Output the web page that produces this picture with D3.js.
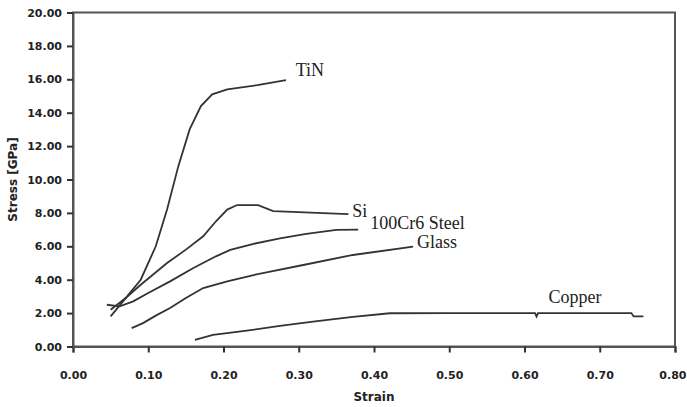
<!DOCTYPE html>
<html>
<head>
<meta charset="utf-8">
<script src="https://cdn.jsdelivr.net/npm/d3@7"></script>
<style>
	body { margin: 0; background: #fff; }
	.tick text { font-family: 'DejaVu Sans', sans-serif; font-weight: bold; font-size: 11px; fill: #222; }
	.label { font-family: 'Liberation Serif', 'Times New Roman', serif; font-size: 18px; fill: #222; }
	.title { font-family: 'DejaVu Sans', sans-serif; font-weight: bold; font-size: 12px; fill: #222; }
</style>
</head>
<body>
<svg id="chart"></svg>
<script>
'use strict';

// strain / stress [GPa] pairs
var tin = [
	[0.050, 1.8], [0.070, 2.9], [0.090, 4.0], [0.110, 6.0], [0.125, 8.2],
	[0.140, 10.8], [0.155, 13.0], [0.170, 14.4], [0.185, 15.1], [0.205, 15.4],
	[0.245, 15.65], [0.283, 15.95]
];
var si = [
	[0.050, 2.2], [0.070, 2.9], [0.090, 3.7], [0.125, 5.0], [0.150, 5.8],
	[0.173, 6.6], [0.190, 7.5], [0.205, 8.2], [0.218, 8.47], [0.246, 8.47],
	[0.266, 8.11], [0.300, 8.05], [0.324, 8.0], [0.366, 7.93]
];
var steel = [
	[0.045, 2.5], [0.062, 2.4], [0.080, 2.7], [0.100, 3.2], [0.129, 3.9],
	[0.160, 4.7], [0.190, 5.4], [0.209, 5.78], [0.240, 6.15], [0.275, 6.48],
	[0.310, 6.75], [0.350, 6.98], [0.379, 7.0]
];
var glass = [
	[0.078, 1.1], [0.093, 1.4], [0.110, 1.85], [0.129, 2.3], [0.150, 2.9],
	[0.173, 3.5], [0.205, 3.9], [0.240, 4.28], [0.306, 4.88], [0.372, 5.48],
	[0.452, 5.98]
];
var copper = [
	[0.162, 0.4], [0.186, 0.7], [0.231, 0.95], [0.275, 1.23], [0.319, 1.49],
	[0.372, 1.78], [0.421, 1.99], [0.500, 2.0], [0.614, 2.0], [0.616, 1.8],
	[0.618, 2.0], [0.742, 2.0], [0.745, 1.8], [0.758, 1.8]
];

var series = [
	{ name: 'TiN', values: tin },
	{ name: 'Si', values: si },
	{ name: '100Cr6 Steel', values: steel },
	{ name: 'Glass', values: glass },
	{ name: 'Copper', values: copper }
];

// where each curve label sits, in data units
var labelPos = [
	{ name: 'TiN', x: 0.296, y: 16.2 },
	{ name: 'Si', x: 0.371, y: 7.75 },
	{ name: '100Cr6 Steel', x: 0.395, y: 7.05 },
	{ name: 'Glass', x: 0.457, y: 5.9 },
	{ name: 'Copper', x: 0.632, y: 2.6 }
];

var xTicks = [0, 0.1, 0.2, 0.3, 0.4, 0.5, 0.6, 0.7, 0.8];
var yTicks = [0, 2, 4, 6, 8, 10, 12, 14, 16, 18, 20];

var w = 687,
	h = 407,
	margin = { top: 12.5, right: 12, bottom: 60.5, left: 73 },
	x, y, line, svg, plot;

svg = d3.select('#chart')
	.attr('width', w)
	.attr('height', h);

x = d3.scaleLinear()
	.domain([0, 0.8])
	.range([margin.left, w - margin.right]);

y = d3.scaleLinear()
	.domain([0, 20])
	.range([h - margin.bottom, margin.top]);

// frame around the plot area
svg.append('rect')
	.attr('x', x(0))
	.attr('y', y(20))
	.attr('width', x(0.8) - x(0))
	.attr('height', y(0) - y(20))
	.attr('fill', 'none')
	.attr('stroke', '#555')
	.attr('stroke-width', 2);

svg.append('g')
	.attr('transform', 'translate(0,' + y(0) + ')')
	.call(d3.axisBottom(x).tickValues(xTicks).tickFormat(d3.format('.2f')).tickSize(6).tickPadding(19))
	.call(function (g) {
		g.select('.domain').attr('stroke', '#555').attr('stroke-width', 2);
		g.selectAll('.tick line').attr('stroke', '#333').attr('stroke-width', 2);
		// last label would run past the right edge, pull it in
		g.selectAll('.tick:last-of-type text')
			.attr('text-anchor', 'end')
			.attr('x', 11);
	});

svg.append('g')
	.attr('transform', 'translate(' + x(0) + ',0)')
	.call(d3.axisLeft(y).tickValues(yTicks).tickFormat(d3.format('.2f')).tickSize(6).tickPadding(5))
	.call(function (g) {
		g.select('.domain').attr('stroke', '#555').attr('stroke-width', 2);
		g.selectAll('.tick line').attr('stroke', '#333').attr('stroke-width', 2);
	});

svg.append('text')
	.attr('class', 'title')
	.attr('x', (x(0) + x(0.8)) / 2)
	.attr('y', 401)
	.attr('text-anchor', 'middle')
	.text('Strain');

svg.append('text')
	.attr('class', 'title')
	.attr('transform', 'translate(17,' + y(10) + ') rotate(-90)')
	.attr('text-anchor', 'middle')
	.text('Stress [GPa]');

line = d3.line()
	.x(function (d) { return x(d[0]); })
	.y(function (d) { return y(d[1]); });

plot = svg.append('g');

plot.selectAll('path.curve')
	.data(series)
	.enter()
	.append('path')
	.attr('class', 'curve')
	.attr('d', function (d) { return line(d.values); })
	.attr('fill', 'none')
	.attr('stroke', '#333')
	.attr('stroke-width', 1.8);

plot.selectAll('text.label')
	.data(labelPos)
	.enter()
	.append('text')
	.attr('class', 'label')
	.attr('x', function (d) { return x(d.x); })
	.attr('y', function (d) { return y(d.y); })
	.text(function (d) { return d.name; });
</script>
</body>
</html>
